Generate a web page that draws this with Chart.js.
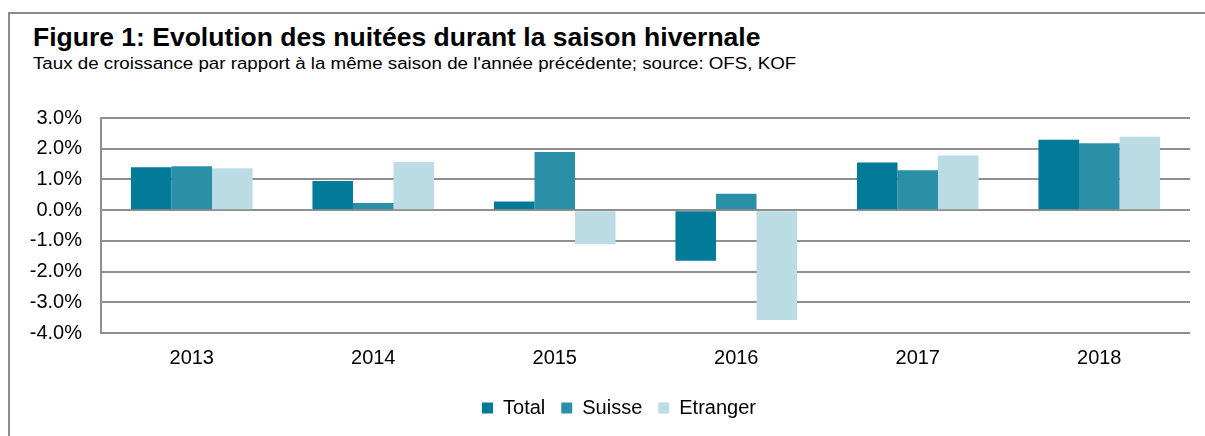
<!DOCTYPE html>
<html>
<head>
<meta charset="utf-8">
<script src="https://cdn.jsdelivr.net/npm/chart.js@4/dist/chart.umd.min.js"></script>
<style>
  html, body { margin: 0; padding: 0; background: #fff; }
  body { width: 1205px; height: 436px; position: relative; overflow: hidden; font-family: "Liberation Sans", Arial, sans-serif; }
  .frame { position: absolute; left: 8px; top: 12px; width: 1210px; height: 440px; border: 2px solid #8c8c8c; box-sizing: border-box; }
  .title { position: absolute; left: 33px; top: 25px; font-size: 25px; font-weight: bold; color: #000; line-height: 1; white-space: nowrap; transform: scaleX(1.06); transform-origin: left top; }
  .subtitle { position: absolute; left: 33px; top: 56px; font-size: 16px; color: #000; line-height: 1; white-space: nowrap; transform: scaleX(1.17); transform-origin: left top; }
  #wrap { position: absolute; left: 0; top: 0; width: 1205px; height: 436px; }
</style>
</head>
<body>
<div class="frame"></div>
<div class="title">Figure 1: Evolution des nuitées durant la saison hivernale</div>
<div class="subtitle">Taux de croissance par rapport à la même saison de l'année précédente; source: OFS, KOF</div>
<div id="wrap"><canvas id="chart" width="1205" height="436"></canvas></div>
<script>
// data
const years = ['2013', '2014', '2015', '2016', '2017', '2018'];
const total = [1.40, 0.95, 0.28, -1.65, 1.55, 2.29];
const suisse = [1.43, 0.23, 1.89, 0.53, 1.30, 2.18];
const etranger = [1.36, 1.57, -1.11, -3.58, 1.78, 2.39];
const seriesNames = ['Total', 'Suisse', 'Etranger'];
const seriesColors = ['#037a98', '#2a8fa7', '#bbdce4'];

const FONT = '"Liberation Sans", Arial, sans-serif';
const gridGray = '#8f8f8f';

// legend sits a bit right of the canvas centre in the original
const legendShift = {
    id: 'legendShift',
    afterLayout(chart) {
        chart.legend.left += 24;
        chart.legend.right += 24;
    }
};

const ctx = document.getElementById('chart').getContext('2d');
new Chart(ctx, {
    type: 'bar',
    data: {
        labels: years,
        datasets: [total, suisse, etranger].map((vals, i) => ({
            label: seriesNames[i],
            data: vals,
            backgroundColor: seriesColors[i],
            borderWidth: 0,
            barPercentage: 1.0,
            categoryPercentage: 0.67
        }))
    },
    options: {
        responsive: false,
        animation: false,
        layout: { padding: { left: 0, right: 15, top: 118, bottom: 8 } },
        plugins: {
            title: { display: false },
            tooltip: { enabled: false },
            legend: {
                position: 'bottom',
                labels: {
                    font: { family: FONT, size: 20 },
                    color: '#000',
                    boxWidth: 11,
                    boxHeight: 11,
                    padding: 16
                }
            }
        },
        scales: {
            x: {
                grid: { display: false, drawTicks: false },
                border: { display: false },
                ticks: { font: { family: FONT, size: 20 }, color: '#000', padding: 13 },
                afterFit: s => { s.height = 49; }
            },
            y: {
                min: -4,
                max: 3,
                grid: { color: gridGray, lineWidth: 2, drawTicks: false },
                border: { display: true, color: gridGray, width: 2 },
                ticks: {
                    stepSize: 1,
                    font: { family: FONT, size: 20 },
                    color: '#000',
                    padding: 19,
                    callback: v => v.toFixed(1) + '%'
                },
                afterFit: s => { s.width = 101; }
            }
        }
    },
    plugins: [legendShift]
});
</script>
</body>
</html>
